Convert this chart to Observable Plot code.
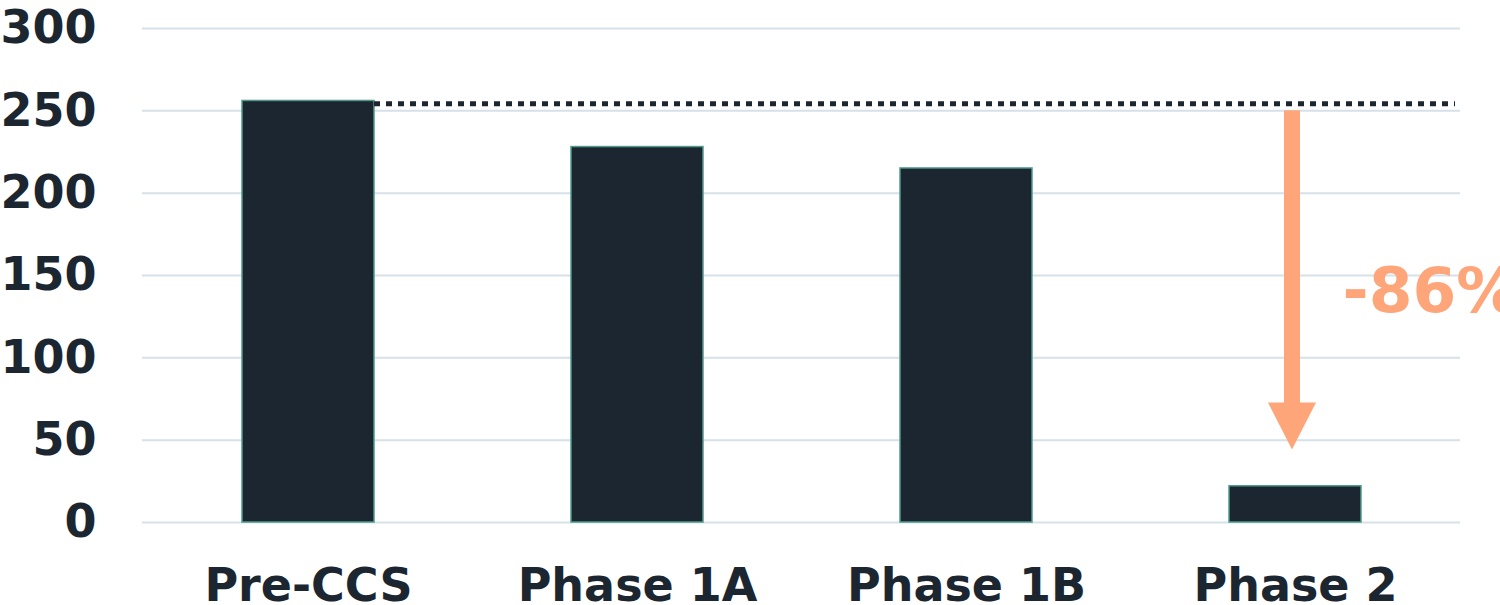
<!DOCTYPE html>
<html><head><meta charset="utf-8">
<script src="https://cdn.jsdelivr.net/npm/d3@7"></script>
<script src="https://cdn.jsdelivr.net/npm/@observablehq/plot@0.6"></script>
<style>
body{margin:0;background:#fff;}
#chart svg{font-family:"DejaVu Sans";font-weight:bold;}
</style>
</head><body><div id="chart"></div>
<script>
// Data
const categories = ["Pre-CCS", "Phase 1A", "Phase 1B", "Phase 2"];
const values = [256, 228, 215, 22];
const yTicks = [0, 50, 100, 150, 200, 250, 300];
const referenceLevel = 254;      // dotted line level
const arrowStart = 250;          // arrow top value
const arrowHeadBase = 72.5;      // arrow head base value
const arrowTip = 44;             // arrow tip value
const changeLabel = "-86%";
const changeLabelValue = 140;

const data = categories.map((c, i) => ({category: c, value: values[i]}));

const dark = "#1b2630";
const accent = "#ffa57a";

function bw(scale) {
  const b = scale.bandwidth;
  return typeof b === "function" ? b() : (b || 0);
}

function annotations(index, scales, vals, dims) {
  const {x, y} = scales;
  const b = bw(x);
  const g = d3.create("svg:g");
  // dotted reference line from right edge of first bar to end of plot
  g.append("line")
    .attr("x1", x(categories[0]) + b)
    .attr("x2", dims.width - dims.marginRight - 5)
    .attr("y1", y(referenceLevel))
    .attr("y2", y(referenceLevel))
    .attr("stroke", dark)
    .attr("stroke-width", 5)
    .attr("stroke-dasharray", "6,6");
  // arrow on last category
  const cx = x(categories[categories.length - 1]) + b / 2 - 3;
  g.append("rect")
    .attr("x", cx - 8).attr("width", 16)
    .attr("y", y(arrowStart))
    .attr("height", y(arrowHeadBase) - y(arrowStart) + 1)
    .attr("fill", accent);
  g.append("polygon")
    .attr("points", [[cx - 24, y(arrowHeadBase)], [cx + 24, y(arrowHeadBase)], [cx, y(arrowTip)]].map(p => p.join(",")).join(" "))
    .attr("fill", accent);
  return g.node();
}

const chart = Plot.plot({
  width: 1500,
  height: 605,
  marginLeft: 142,
  marginRight: 40,
  marginTop: 28,
  marginBottom: 83,
  x: {domain: categories, paddingInner: 0.6, paddingOuter: 0.3, label: null},
  y: {domain: [0, 300], label: null},
  marks: [
    Plot.gridY(yTicks, {stroke: "#d6e1ea", strokeOpacity: 1, strokeWidth: 2}),
    Plot.barY(data, {x: "category", y: "value", fill: dark, stroke: "#4f9a8b", strokeWidth: 1.5}),
    Plot.axisY(yTicks, {tickSize: 0, tickPadding: 46, fontSize: 46, fontWeight: "bold", fill: dark, label: null}),
    Plot.axisX({tickSize: 0, tickPadding: 46, fontSize: 46, fontWeight: "bold", fill: dark, label: null}),
    annotations,
    Plot.text([changeLabel], {x: () => categories[3], y: () => changeLabelValue, text: d => d, dx: 47, textAnchor: "start", fontSize: 63, fontWeight: "bold", fill: accent})
  ]
});
document.getElementById("chart").appendChild(chart);
</script>
</body></html>
